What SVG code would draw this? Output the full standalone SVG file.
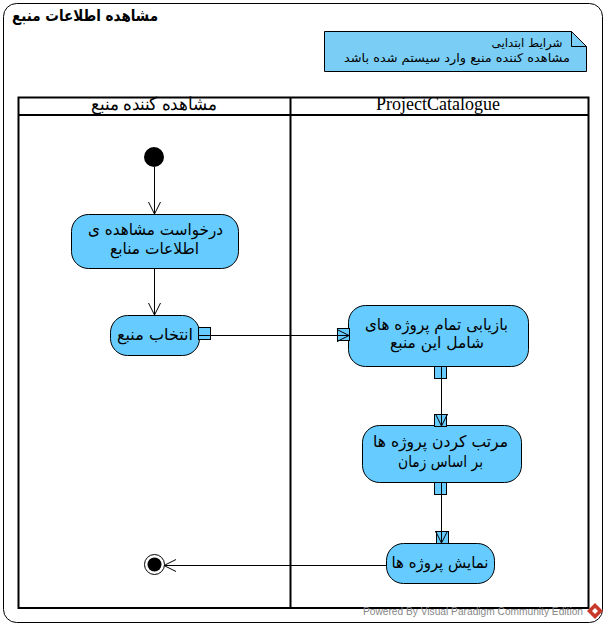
<svg xmlns="http://www.w3.org/2000/svg" width="607" height="628" viewBox="0 0 607 628">
<style>
text{font-family:"DejaVu Sans","Noto Sans",sans-serif;fill:#000;direction:rtl;text-anchor:middle}
.n{fill:#66ccff;stroke:#000;stroke-width:1}
.t{font-size:16px}
.h{font-family:"Liberation Serif","DejaVu Serif",serif;font-size:18px}
.p{fill:#66ccff;stroke:#000;stroke-width:1}
.c{fill:none;stroke:#000;stroke-width:1}
.pool{fill:none;stroke:#000;stroke-width:2}
</style>
<defs>
<marker id="arr" markerUnits="userSpaceOnUse" markerWidth="14" markerHeight="14" refX="12" refY="7" orient="auto"><path d="M0 1L12 7L0 13" fill="none" stroke="#000" stroke-width="1"/></marker>
</defs>
<g id="frame">
<rect x="3.500" y="3.500" width="599" height="619" rx="13" fill="#fff" stroke="#000"/>
<text x="85" y="21" textLength="146" lengthAdjust="spacingAndGlyphs" style="font-size:16px;font-weight:bold">مشاهده اطلاعات منبع</text>
</g>
<g id="note">
<path d="M324.500 31.500H571.500L586.500 46.500V71.500H324.500Z" fill="#7acef6" stroke="#000"/>
<path d="M571.500 31.500V46.500H586.500" fill="none" stroke="#000"/>
<text x="527" y="47" textLength="71" lengthAdjust="spacingAndGlyphs" style="font-size:12px">شرایط ابتدایی</text>
<text x="457" y="62" textLength="226" lengthAdjust="spacingAndGlyphs" style="font-size:12px">مشاهده کننده منبع وارد سیستم شده باشد</text>
</g>
<g id="pool">
<rect class="pool" x="18.500" y="97.500" width="570" height="510.500"/>
<path class="pool" d="M18.500 115H588.500M290.500 97.500V608"/>
<text class="h" x="154" y="110" textLength="126" lengthAdjust="spacingAndGlyphs">مشاهده کننده منبع</text>
<text class="h" x="438" y="110" style="direction:ltr">ProjectCatalogue</text>
</g>
<g id="connectors">
<path class="c" d="M154.500 167V214" marker-end="url(#arr)"/>
<path class="c" d="M154.500 269V315" marker-end="url(#arr)"/>
<path class="c" d="M211 335.500H349" marker-end="url(#arr)"/>
<path class="c" d="M441.500 377V426" marker-end="url(#arr)"/>
<path class="c" d="M441.500 494V543" marker-end="url(#arr)"/>
<path class="c" d="M386 565.500H164" marker-end="url(#arr)"/>
</g>
<g id="start"><circle cx="154" cy="157" r="10" fill="#000"/></g>
<g id="n1">
<rect class="n" x="71.500" y="214.500" width="167" height="54" rx="17"/>
<text class="t" x="155.500" y="235" textLength="135" lengthAdjust="spacingAndGlyphs">درخواست مشاهده ی</text>
<text class="t" x="154.500" y="254" textLength="89" lengthAdjust="spacingAndGlyphs">اطلاعات منابع</text>
</g>
<g id="n2">
<rect class="n" x="110.500" y="315.500" width="89" height="40" rx="17"/>
<text class="t" x="155" y="340" textLength="76" lengthAdjust="spacingAndGlyphs">انتخاب منبع</text>
<rect class="p" x="198.500" y="327.500" width="12" height="12"/>
<path class="c" d="M198.500 335.500H211"/>
</g>
<g id="n3">
<rect class="n" x="348.500" y="305.500" width="180" height="61" rx="17"/>
<text class="t" x="436.500" y="330" textLength="143" lengthAdjust="spacingAndGlyphs">بازیابی تمام پروژه های</text>
<text class="t" x="437" y="348" textLength="94" lengthAdjust="spacingAndGlyphs">شامل این منبع</text>
<rect class="p" x="337.500" y="328.500" width="12" height="12"/>
<rect class="p" x="434.500" y="366.500" width="12" height="12"/>
<path class="c" d="M441.500 366.500V378.500"/>
<path class="c" d="M337 329.500L349 335.500L337 341.500M337 335.500H349"/>
</g>
<g id="n4">
<rect class="n" x="362.500" y="425.500" width="159" height="57" rx="17"/>
<text class="t" x="440.500" y="447" textLength="135" lengthAdjust="spacingAndGlyphs">مرتب کردن پروژه ها</text>
<text class="t" x="440.500" y="467" textLength="85" lengthAdjust="spacingAndGlyphs">بر اساس زمان</text>
<rect class="p" x="434.500" y="414.500" width="12" height="12"/>
<rect class="p" x="434.500" y="482.500" width="12" height="12"/>
<path class="c" d="M441.500 482.500V494.500"/>
<path class="c" d="M435.500 414L441.500 426L447.500 414M441.500 414V426"/>
</g>
<g id="n5">
<rect class="n" x="386.500" y="543.500" width="108" height="40" rx="17"/>
<text class="t" x="440" y="568" textLength="97" lengthAdjust="spacingAndGlyphs">نمایش پروژه ها</text>
<rect class="p" x="436.500" y="531.500" width="12" height="12"/>
<path class="c" d="M435.500 531L441.500 543L447.500 531M441.500 531V543"/>
</g>
<g id="end">
<circle cx="154.500" cy="564.500" r="10" fill="#fff" stroke="#000"/>
<circle cx="154.500" cy="564.500" r="7" fill="#000"/>
</g>
<g id="watermark">
<text x="473" y="615" textLength="220" lengthAdjust="spacingAndGlyphs" style="direction:ltr;font-family:'Liberation Sans',sans-serif;font-size:10.500px;fill:#888">Powered By  Visual Paradigm Community Edition</text>
<path d="M595 603L603 611L595 619L587 611Z" fill="#c8392b"/>
<path d="M595 608L598 611L595 614L592 611Z" fill="#fff"/>
</g>
</svg>
